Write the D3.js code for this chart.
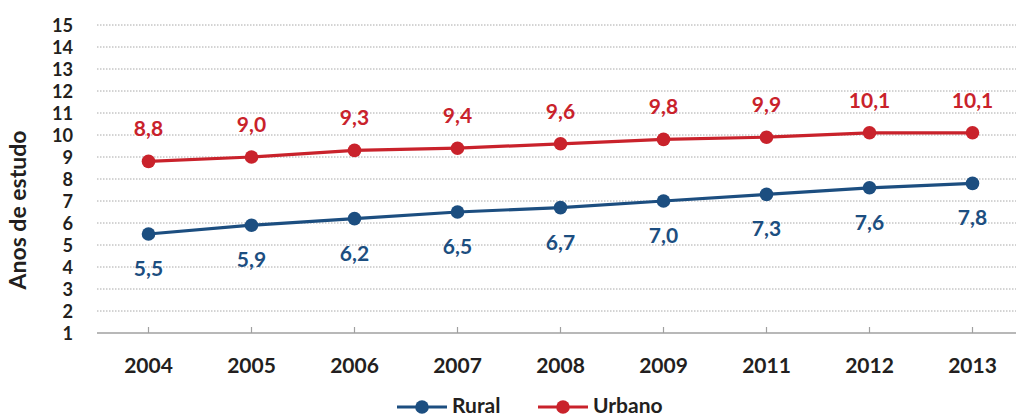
<!DOCTYPE html>
<html>
<head>
<meta charset="utf-8">
<script src="https://cdn.jsdelivr.net/npm/d3@7"></script>
<style>
  html, body { margin: 0; padding: 0; background: #fff; }
  svg { display: block; font-family: Lato, "Open Sans", sans-serif; }
</style>
</head>
<body>
<svg id="chart" width="1016" height="417"></svg>
<script>
// Years of schooling, rural vs urban population
const years = ["2004", "2005", "2006", "2007", "2008", "2009", "2011", "2012", "2013"];
const rural = [5.5, 5.9, 6.2, 6.5, 6.7, 7.0, 7.3, 7.6, 7.8];
const urbano = [8.8, 9.0, 9.3, 9.4, 9.6, 9.8, 9.9, 10.1, 10.1];
const yTicks = [1, 2, 3, 4, 5, 6, 7, 8, 9, 10, 11, 12, 13, 14, 15];
const seriesNames = ["Rural", "Urbano"];

const colors = { Rural: "#1c4e80", Urbano: "#c9222b" };
const textColor = "#231f20";
const fontFamily = "Lato, 'Open Sans', sans-serif";

const svg = d3.select("#chart");
const plotLeft = 97, plotRight = 1024, plotTop = 25, plotBottom = 333;

const x = d3.scaleBand().domain(years).range([plotLeft, plotRight]);
const y = d3.scaleLinear().domain([1, 15]).range([plotBottom, plotTop]);
const fmt = v => v.toFixed(1).replace(".", ",");

// horizontal dotted gridlines
svg.append("g")
  .selectAll("line")
  .data(yTicks.filter(t => t > 1))
  .join("line")
  .attr("x1", plotLeft).attr("x2", 1016)
  .attr("y1", d => y(d)).attr("y2", d => y(d))
  .attr("stroke", "#a8a8a8")
  .attr("stroke-width", 1)
  .attr("stroke-dasharray", "1.5,1.5");

// y axis labels
const yAxis = svg.append("g")
  .attr("transform", `translate(${plotLeft},0)`)
  .call(d3.axisLeft(y).tickValues(yTicks).tickSize(0));
yAxis.select(".domain").remove();
yAxis.selectAll("text")
  .attr("font-family", fontFamily)
  .attr("font-size", 18.2).attr("font-weight", 700).attr("fill", textColor)
  .attr("dy", "0.36em").attr("x", -24);

// x axis
const xAxis = svg.append("g")
  .attr("transform", `translate(0,${plotBottom})`)
  .call(d3.axisTop(x).tickSize(6).tickPadding(0));
xAxis.select(".domain").attr("stroke", "#a0a0a0").attr("stroke-width", 1.5)
  .attr("d", `M${plotLeft},0H1016`);
xAxis.selectAll(".tick line").attr("stroke", "#a0a0a0").attr("stroke-width", 1.2);
xAxis.selectAll(".tick text")
  .attr("y", 40).attr("dy", 0)
  .attr("font-family", fontFamily)
  .attr("font-size", 21).attr("font-weight", 700).attr("fill", textColor);

// y axis title
svg.append("text")
  .attr("transform", `translate(26,210) rotate(-90)`)
  .attr("text-anchor", "middle")
  .attr("font-size", 23).attr("font-weight", 700).attr("fill", textColor)
  .text("Anos de estudo");

const cx = d => x(d) + x.bandwidth() / 2;
const series = [
  { name: "Rural", values: rural, labelDy: 42 },
  { name: "Urbano", values: urbano, labelDy: -25 }
];

const line = d3.line().x(d => cx(d.year)).y(d => y(d.v));

series.forEach(s => {
  const pts = years.map((yr, i) => ({ year: yr, v: s.values[i] }));
  const g = svg.append("g");
  g.append("path")
    .datum(pts)
    .attr("d", line)
    .attr("fill", "none")
    .attr("stroke", colors[s.name])
    .attr("stroke-width", 3.2);
  g.selectAll("circle")
    .data(pts)
    .join("circle")
    .attr("cx", d => cx(d.year)).attr("cy", d => y(d.v))
    .attr("r", 6.8)
    .attr("fill", colors[s.name]);
  g.selectAll("text")
    .data(pts)
    .join("text")
    .attr("x", d => cx(d.year))
    .attr("y", d => y(d.v) + s.labelDy)
    .attr("text-anchor", "middle")
    .attr("font-size", 21).attr("font-weight", 700)
    .attr("fill", colors[s.name])
    .text(d => fmt(d.v));
});

// legend
const legendY = 407;
const legendItems = [
  { name: "Rural", x: 397 },
  { name: "Urbano", x: 538 }
];
const lg = svg.append("g");
legendItems.forEach(it => {
  lg.append("line")
    .attr("x1", it.x).attr("x2", it.x + 50)
    .attr("y1", legendY).attr("y2", legendY)
    .attr("stroke", colors[it.name]).attr("stroke-width", 3.2);
  lg.append("circle")
    .attr("cx", it.x + 25).attr("cy", legendY).attr("r", 6.8)
    .attr("fill", colors[it.name]);
  lg.append("text")
    .attr("x", it.x + 55).attr("y", 413)
    .attr("font-size", 21).attr("font-weight", 700).attr("fill", textColor)
    .text(it.name);
});
</script>
</body>
</html>
